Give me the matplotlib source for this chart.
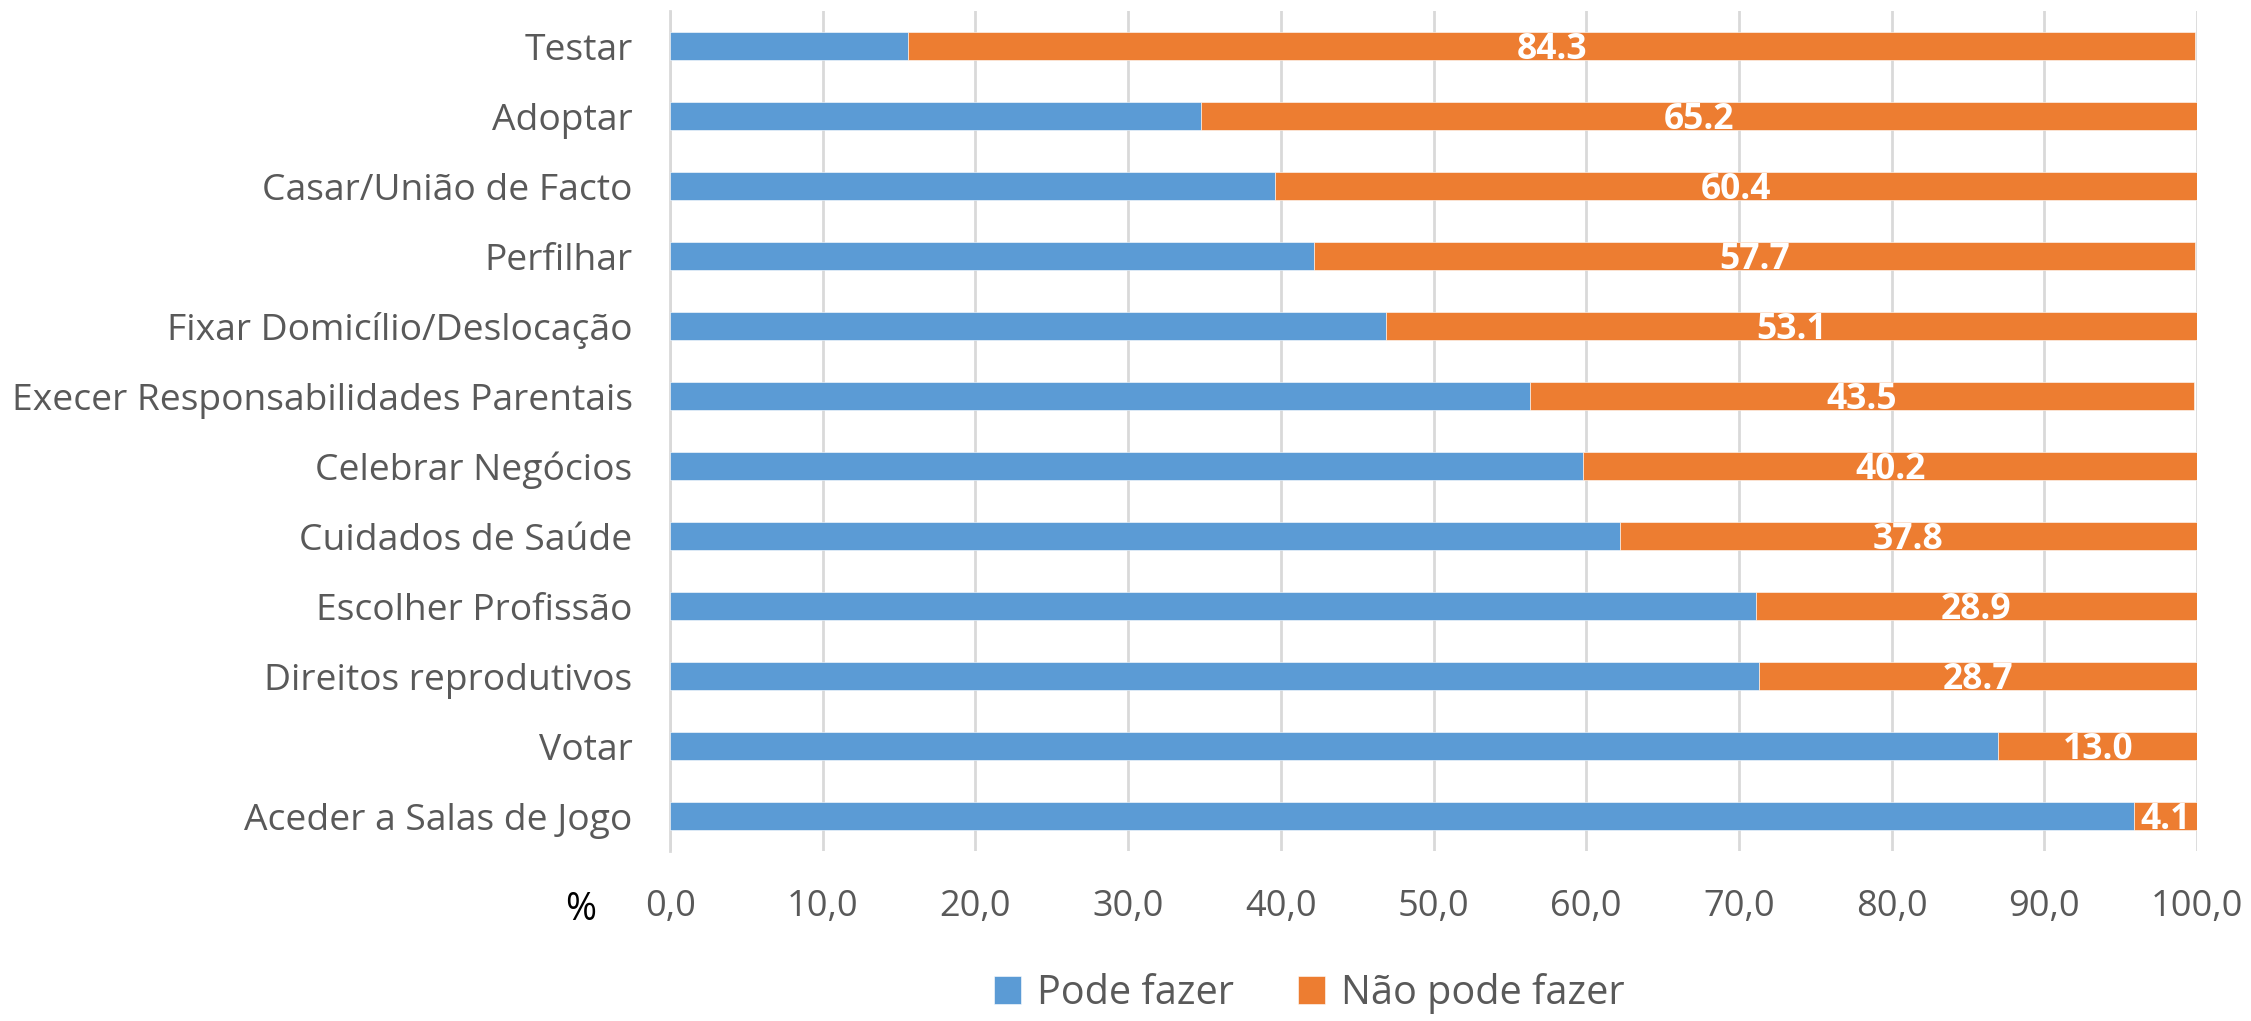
import matplotlib
matplotlib.use("Agg")
import matplotlib.pyplot as plt
import numpy as np

categories = [
    "Testar",
    "Adoptar",
    "Casar/União de Facto",
    "Perfilhar",
    "Fixar Domicílio/Deslocação",
    "Execer Responsabilidades Parentais",
    "Celebrar Negócios",
    "Cuidados de Saúde",
    "Escolher Profissão",
    "Direitos reprodutivos",
    "Votar",
    "Aceder a Salas de Jogo",
]
pode_fazer = [15.6, 34.8, 39.6, 42.2, 46.9, 56.3, 59.8, 62.2, 71.1, 71.3, 87.0, 95.9]
nao_pode_fazer = [84.3, 65.2, 60.4, 57.7, 53.1, 43.5, 40.2, 37.8, 28.9, 28.7, 13.0, 4.1]
series_names = ["Pode fazer", "Não pode fazer"]
x_ticks = [0, 10, 20, 30, 40, 50, 60, 70, 80, 90, 100]

BLUE = "#5B9BD5"
ORANGE = "#ED7D31"
GREY_TEXT = "#595959"
GRID = "#D9D9D9"

plt.rcParams["font.family"] = ["Open Sans", "DejaVu Sans"]

fig = plt.figure(figsize=(22.51, 10.21), dpi=100)
ax = fig.add_axes([0.2977, 0.1665, 0.976 - 0.2977, 0.989 - 0.1665])

y = np.arange(len(categories))
h = 0.4
b1 = ax.barh(y, pode_fazer, height=h, color=BLUE, label=series_names[0],
             edgecolor="white", linewidth=0.4, zorder=3)
b2 = ax.barh(y, nao_pode_fazer, left=pode_fazer, height=h, color=ORANGE,
             label=series_names[1], edgecolor="white", linewidth=0.4, zorder=3)

# value labels centred on the orange segments
for yi, left, val in zip(y, pode_fazer, nao_pode_fazer):
    ax.text(left + val / 2, yi + 0.06, f"{val:.1f}", ha="center", va="center",
            color="white", fontsize=25.5, fontweight="bold", zorder=4)

ax.set_xlim(0, 100)
ax.set_ylim(len(categories) - 0.5, -0.5)
ax.set_yticks(y)
ax.set_yticklabels(categories, fontsize=26.8, color=GREY_TEXT)
ax.set_xticks(x_ticks)
ax.set_xticklabels([f"{t:.1f}".replace(".", ",") for t in x_ticks],
                   fontsize=26, color=GREY_TEXT)
ax.tick_params(axis="y", length=0, pad=27)
ax.tick_params(axis="x", length=0, pad=27)

ax.grid(axis="x", color=GRID, linewidth=2, zorder=0)
ax.set_axisbelow(True)
for side in ["top", "right", "bottom"]:
    ax.spines[side].set_visible(False)
ax.spines["left"].set_color(GRID)
ax.spines["left"].set_linewidth(2)

fig.text(581 / 2251, 1 - 910 / 1021, "%", fontsize=27, color="black",
         ha="center", va="center")

leg = fig.legend(handles=[b1, b2], labels=series_names, loc="center",
                 bbox_to_anchor=(0.5816, 1 - 993 / 1021), ncol=2, frameon=False,
                 fontsize=28.5, handlelength=0.7, handleheight=0.7,
                 handletextpad=0.4, columnspacing=1.6)
for t in leg.get_texts():
    t.set_color(GREY_TEXT)

fig.savefig("out.png", dpi=100)
